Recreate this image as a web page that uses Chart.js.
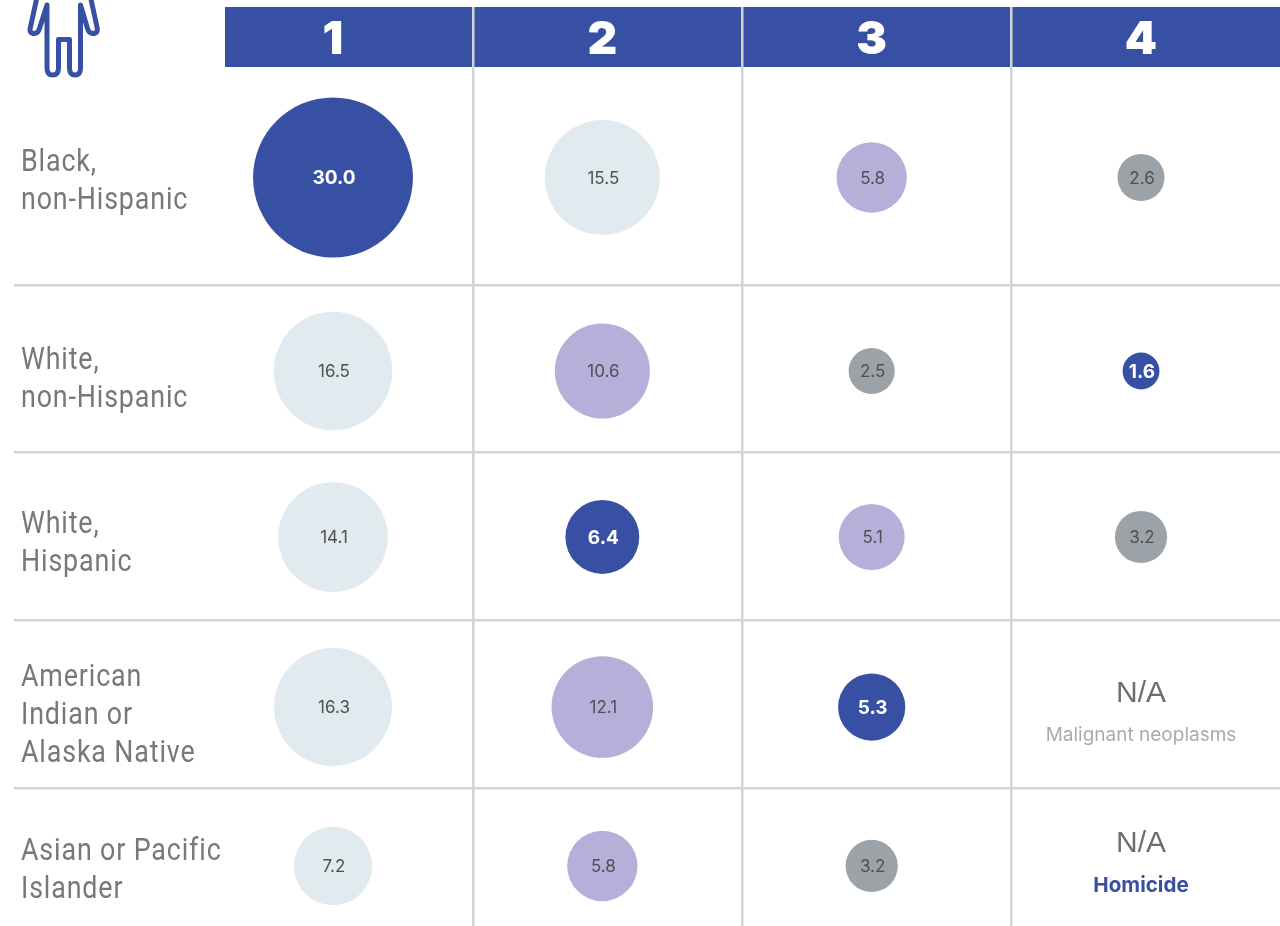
<!DOCTYPE html>
<html>
<head>
<meta charset="utf-8">
<title>Rates by group</title>
<style>
  html, body { margin: 0; padding: 0; background: #fff; }
  canvas { display: block; }
</style>
<script src="https://cdn.jsdelivr.net/npm/chart.js@4"></script>
</head>
<body>
<canvas id="chart" width="1280" height="926"></canvas>
<script>
// Column headers (rank) and row labels
const ranks = [1, 2, 3, 4];
const groups = [
    ['Black,', 'non-Hispanic'],
    ['White,', 'non-Hispanic'],
    ['White,', 'Hispanic'],
    ['American', 'Indian or', 'Alaska Native'],
    ['Asian or Pacific', 'Islander']
];

// Values per row, one for each rank (null = no bubble)
const blackNonHispanic = [30.0, 15.5, 5.8, 2.6];
const whiteNonHispanic = [16.5, 10.6, 2.5, 1.6];
const whiteHispanic = [14.1, 6.4, 5.1, 3.2];
const americanIndian = [16.3, 12.1, 5.3, null];
const asianPacific = [7.2, 5.8, 3.2, null];

// Colour key per row
const blackKeys = ['blue', 'pale', 'purple', 'grey'];
const whiteKeys = ['pale', 'purple', 'grey', 'blue'];
const hispanicKeys = ['pale', 'blue', 'purple', 'grey'];
const americanKeys = ['pale', 'purple', 'blue', null];
const asianKeys = ['pale', 'purple', 'grey', null];

// Notes for the empty cells
const naLabel = 'N/A';
const americanNote = 'Malignant neoplasms';
const asianNote = 'Homicide';

// Row positions on the y scale (bubbles and labels are not on quite the same line)
const rowPositions = [0.359, 1.513, 2.503, 3.517, 4.465];
const labelPositions = [0.386, 1.567, 2.545, 3.571, 4.495];
const rowRules = [1, 2, 3, 4];
const columnRules = [1.52, 2.52, 3.52];

const colors = {
    blue: '#3850a3',
    pale: '#e1eaef',
    purple: '#b5b0d9',
    grey: '#9ba3a8'
};
const ruleColor = '#d2d3d5';
const textColor = '#4d4f53';
const labelColor = '#77787b';

const allValues = [blackNonHispanic, whiteNonHispanic, whiteHispanic, americanIndian, asianPacific];
const allKeys = [blackKeys, whiteKeys, hispanicKeys, americanKeys, asianKeys];

// Bubble area follows the value
function bubbleRadius(value) {
    return Math.sqrt(value) * 14.6;
}

const points = [];
const pointColors = [];
allValues.forEach((row, r) => {
    row.forEach((value, c) => {
        if (value === null) return;
        points.push({ x: ranks[c], y: rowPositions[r], r: bubbleRadius(value), value: value });
        pointColors.push(colors[allKeys[r][c]]);
    });
});

// Header band behind the x axis labels
const headerBand = {
    id: 'headerBand',
    beforeDraw(chart) {
        const { ctx, scales } = chart;
        ctx.save();
        ctx.fillStyle = colors.blue;
        ctx.fillRect(scales.x.left, scales.x.top, scales.x.right - scales.x.left, scales.x.bottom - scales.x.top);
        ctx.restore();
    }
};

// Person icon, top left
const personIcon = {
    id: 'personIcon',
    afterDraw(chart) {
        const ctx = chart.ctx;
        ctx.save();
        ctx.strokeStyle = colors.blue;
        ctx.lineWidth = 5;
        ctx.lineJoin = 'round';
        ctx.stroke(new Path2D('M37 -3 L30.5 27 Q28.5 33.5 34.5 33.5 Q38 33.5 39.5 28.5 L47 5 L47 68 Q47 75 52.5 75 Q58.5 75 58.5 68 L58.5 39.5 L69.5 39.5 L69.5 68 Q69.5 75 75 75 Q80.5 75 80.5 68 L80.5 5 L87.5 28.5 Q89 33.5 93 33.5 Q98.5 33.5 97 27 L90.5 -3'));
        ctx.restore();
    }
};

// Row labels are condensed, so they are squeezed sideways here instead of on the axis
const rowLabels = {
    id: 'rowLabels',
    afterDraw(chart) {
        const { ctx, scales } = chart;
        const squeeze = 0.865;
        const lineHeight = 38;
        ctx.save();
        ctx.scale(squeeze, 1);
        ctx.font = '400 31px Roboto';
        ctx.letterSpacing = '1px';
        ctx.fillStyle = labelColor;
        ctx.textAlign = 'left';
        ctx.textBaseline = 'middle';
        groups.forEach((lines, i) => {
            const centre = scales.y.getPixelForValue(labelPositions[i]);
            lines.forEach((line, j) => {
                const y = centre + (j - (lines.length - 1) / 2) * lineHeight;
                ctx.fillText(line, 21 / squeeze, y);
            });
        });
        ctx.restore();
    }
};

// Values inside the bubbles and the notes in the empty cells
const cellText = {
    id: 'cellText',
    afterDatasetsDraw(chart) {
        const { ctx, scales } = chart;
        const elements = chart.getDatasetMeta(0).data;
        ctx.save();
        ctx.textAlign = 'center';
        ctx.textBaseline = 'middle';
        elements.forEach((el, i) => {
            const isBlue = pointColors[i] === colors.blue;
            ctx.font = (isBlue ? 'bold 19px' : '17px') + ' Inter';
            ctx.fillStyle = isBlue ? '#fff' : textColor;
            ctx.fillText(points[i].value.toFixed(1), el.x + 1, el.y + 1);
        });
        const x = scales.x.getPixelForValue(ranks[3]);
        ctx.font = '30px "Liberation Sans"';
        ctx.fillStyle = '#6d6e71';
        ctx.fillText(naLabel, x, scales.y.getPixelForValue(rowPositions[3]) - 13);
        ctx.fillText(naLabel, x, scales.y.getPixelForValue(rowPositions[4]) - 22);
        ctx.font = '19px Inter';
        ctx.fillStyle = '#a4adb3';
        ctx.fillText(americanNote, x, scales.y.getPixelForValue(rowPositions[3]) + 28);
        ctx.font = 'bold 20.6px Inter';
        ctx.fillStyle = colors.blue;
        ctx.fillText(asianNote, x, scales.y.getPixelForValue(rowPositions[4]) + 20);
        ctx.restore();
    }
};

new Chart(document.getElementById('chart'), {
    type: 'bubble',
    data: {
        datasets: [{
            data: points,
            backgroundColor: pointColors,
            borderWidth: 0,
            hoverBorderWidth: 0
        }]
    },
    options: {
        responsive: false,
        animation: false,
        layout: { autoPadding: false, padding: { top: 7, left: 21, right: 0, bottom: 0 } },
        plugins: { legend: { display: false }, tooltip: { enabled: false } },
        scales: {
            x: {
                type: 'linear',
                position: 'top',
                min: 0.599,
                max: 4.516,
                afterBuildTicks(axis) {
                    axis.ticks = ranks.concat(columnRules).map(v => ({ value: v }));
                },
                afterFit(axis) { axis.height = 60; },
                border: { display: false },
                grid: {
                    color: ctx => columnRules.includes(ctx.tick.value) ? ruleColor : 'transparent',
                    lineWidth: 2.5,
                    tickLength: 60
                },
                ticks: {
                    autoSkip: false,
                    maxRotation: 0,
                    padding: -61,
                    color: '#fff',
                    font: { family: 'Inter', weight: '900', size: 46 },
                    callback: value => ranks.includes(value) ? String(value) : ''
                }
            },
            y: {
                type: 'linear',
                reverse: true,
                min: -0.3,
                max: 4.823,
                afterBuildTicks(axis) {
                    axis.ticks = labelPositions.concat(rowRules).map(v => ({ value: v }));
                },
                afterFit(axis) { axis.width = 204; },
                border: { display: false },
                grid: {
                    color: ctx => rowRules.includes(ctx.tick.value) ? ruleColor : 'transparent',
                    lineWidth: 2.5,
                    tickLength: 211
                },
                ticks: { display: false, autoSkip: false }
            }
        }
    },
    plugins: [headerBand, cellText, rowLabels, personIcon]
});
</script>
</body>
</html>
